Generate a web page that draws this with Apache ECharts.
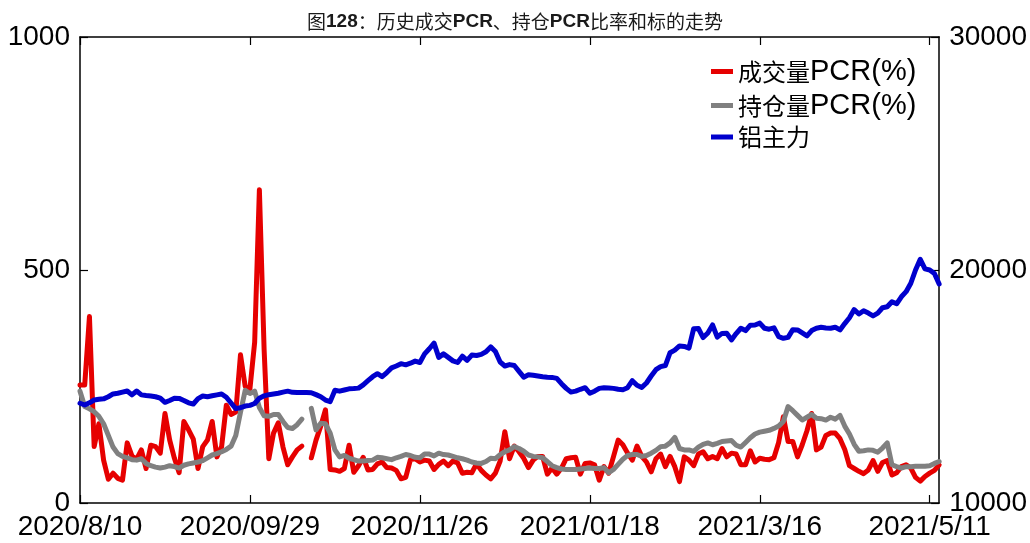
<!DOCTYPE html>
<html>
<head>
<meta charset="utf-8">
<script src="https://cdn.jsdelivr.net/npm/echarts/dist/echarts.min.js"></script>
<style>
  html, body { margin: 0; padding: 0; background: #ffffff; }
  #chart { width: 1030px; height: 543px; }
</style>
</head>
<body>
<div id="chart"></div>
<script>
// Trading calendar: weekdays from first to last session, minus exchange holidays
const firstDay = '2020-08-10';
const lastDay = '2021-05-13';
const holidays = [
  '2020-10-01', '2020-10-02', '2020-10-05', '2020-10-06', '2020-10-07', '2020-10-08',
  '2021-01-01',
  '2021-02-11', '2021-02-12', '2021-02-15', '2021-02-16', '2021-02-17',
  '2021-04-05',
  '2021-05-03', '2021-05-04', '2021-05-05'
];

// Labels shown under every 36th session
const tickStep = 36;
const tickLabels = ['2020/8/10', '2020/09/29', '2020/11/26', '2021/01/18', '2021/3/16', '2021/5/11'];

// Legend names split into Chinese part and Latin suffix
const seriesNames = ['成交量PCR(%)', '持仓量PCR(%)', '铝主力'];

// 成交量PCR (%)
const volumePCR = [
  253, 253, 400, 121, 170, 92, 51, 64, 53, 49,
  129, 101, 94, 114, 74, 124, 121, 107, 192, 135,
  96, 65, 175, 157, 137, 74, 121, 135, 175, 99,
  121, 210, 190, 195, 318, 250, 245, 345, 672, 330,
  95, 150, 172, 120, 82, 99, 114, 122, null, 97,
  135, 165, 200, 72, 71, 68, 74, 124, 66, 80,
  98, 71, 72, 84, 88, 76, 75, 70, 52, 55,
  93, 95, 88, 92, 90, 72, 83, 90, 80, 90,
  86, 64, 66, 65, 84, 70, 60, 52, 64, 90,
  153, 95, 122, 110, 96, 76, 92, 100, 100, 62,
  75, 62, 75, 95, 97, 98, 62, 85, 86, 82,
  49, 78, 64, 99, 135, 125, 107, 92, 122, 100,
  88, 67, 95, 105, 78, 100, 78, 46, 99, 92,
  80, 105, 110, 95, 100, 95, 117, 99, 107, 105,
  82, 82, 112, 88, 96, 94, 93, 97, 130, 185,
  132, 132, 99, 125, 155, 192, 114, 120, 145, 150,
  150, 138, 115, 80, 74, 68, 63, 71, 91, 68,
  87, 91, 60, 65, 78, 82, 75, 55, 47, 57,
  64, 70, 82
];

// 持仓量PCR (%)
const openInterestPCR = [
  240, 207, 202, 196, 186, 170, 145, 120, 106, 100,
  97, 93, 92, 95, 85, 80, 77, 75, 77, 80,
  78, 75, 81, 84, 86, 88, 91, 97, 103, 106,
  110, 115, 122, 145, 195, 242, 235, 240, 205, 187,
  186, 190, 190, 175, 162, 160, 168, 180, null, 203,
  157, 171, 170, 150, 114, 99, 102, 96, 93, 90,
  90, 91, 92, 98, 97, 95, 93, 97, 100, 104,
  102, 98, 97, 105, 105, 101, 107, 104, 103, 100,
  97, 95, 92, 88, 86, 85, 89, 96, 95, 104,
  110, 114, 121, 117, 111, 103, 100, 99, 97, 89,
  80, 76, 73, 72, 72, 72, 73, 74, 75, 74,
  74, 76, 65, 72, 83, 94, 102, 104, 104, 100,
  102, 107, 113, 121, 122, 129, 141, 117, 114, 114,
  111, 120, 126, 129, 125, 128, 132, 133, 134, 124,
  120, 130, 140, 148, 152, 154, 156, 160, 165, 175,
  207, 198, 188, 178, 184, 190, 182, 181, 178, 184,
  180, 188, 165, 148, 126, 111, 112, 114, 113, 109,
  118, 129, 82, 78, 75, 78, 78, 79, 79, 79,
  80, 85, 89
];

// 铝主力 close
const aluminium = [
  14280, 14206, 14300, 14420, 14450, 14470, 14560, 14680, 14710, 14760,
  14807, 14640, 14807, 14640, 14610, 14590, 14560, 14500, 14320, 14400,
  14500, 14490, 14400, 14300, 14250, 14480, 14590, 14560, 14600, 14640,
  14680, 14540, 14290, 14050, 14090, 14160, 14190, 14270, 14500, 14600,
  14650, 14680, 14710, 14760, 14800, 14750, 14740, 14740, 14740, 14734,
  14650, 14560, 14420, 14350, 14840, 14800, 14850, 14900, 14910, 14930,
  15070, 15250, 15420, 15550, 15420, 15600, 15800, 15880, 15980, 15930,
  16000, 16090, 16030, 16400, 16620, 16860, 16250, 16400, 16250, 16100,
  16030, 16300, 16120, 16350, 16330, 16380, 16490, 16700, 16500, 16050,
  15880, 15940, 15900, 15650, 15400, 15500, 15480, 15450, 15420, 15400,
  15390, 15350, 15120, 14920, 14760, 14800, 14880, 14950, 14710, 14800,
  14920, 14950, 14940, 14920, 14880, 14860, 14950, 15250, 15050, 14960,
  15150, 15450, 15720, 15850, 15900, 16450, 16560, 16740, 16720, 16650,
  17480, 17490, 17100, 17300, 17640, 17120, 17280, 17283, 17000, 17270,
  17500, 17400, 17630, 17640, 17720, 17500, 17460, 17520, 17140, 17070,
  17110, 17440, 17430, 17300, 17170, 17400, 17500, 17540, 17510, 17500,
  17540, 17430, 17700, 17950, 18300, 18110, 18250, 18150, 18030, 18150,
  18380, 18420, 18640, 18550, 18850, 19070, 19430, 20000, 20460, 20050,
  20000, 19850, 19400
];

function tradingDays(from, to, closed) {
  const out = [];
  const skip = new Set(closed);
  const d = new Date(from + 'T00:00:00Z');
  const end = new Date(to + 'T00:00:00Z');
  while (d <= end) {
    const dow = d.getUTCDay();
    const key = d.toISOString().slice(0, 10);
    if (dow !== 0 && dow !== 6 && !skip.has(key)) out.push(key);
    d.setUTCDate(d.getUTCDate() + 1);
  }
  return out;
}

const categories = tradingDays(firstDay, lastDay, holidays);

const latin = 'Liberation Sans, Arial, sans-serif';
const cjk = 'Noto Sans CJK SC, sans-serif';
const black = '#000000';

// Legend label: Chinese characters and the Latin "PCR(%)" part are styled separately
function legendLabel(name) {
  const m = name.match(/^([^A-Za-z(]+)(.*)$/);
  return m && m[2] ? '{c|' + m[1] + '}{l|' + m[2] + '}' : '{c|' + name + '}';
}

const plainNumber = function (v) { return String(v); };

const chart = echarts.init(document.getElementById('chart'), null, { renderer: 'canvas' });

const frameLine = { show: true, lineStyle: { color: black, width: 1.5 } };
const innerTick = { show: true, inside: true, length: 8, lineStyle: { color: black, width: 1.2 } };

chart.setOption({
  animation: false,
  backgroundColor: '#ffffff',
  title: {
    text: '{n|图}{b|128}{n|：历史成交}{b|PCR}{n|、持仓}{b|PCR}{n|比率和标的走势}',
    left: 'center',
    top: 7,
    textStyle: {
      fontWeight: 'normal',
      rich: {
        n: { fontSize: 19, fontFamily: cjk, fontWeight: 'normal', color: '#1a1a1a' },
        b: { fontSize: 19, fontFamily: latin, fontWeight: 'bold', color: '#1a1a1a' }
      }
    }
  },
  legend: {
    orient: 'vertical',
    left: 706,
    top: 52,
    itemGap: 5,
    itemWidth: 22,
    itemHeight: 5,
    icon: 'rect',
    data: seriesNames,
    formatter: legendLabel,
    textStyle: {
      color: black,
      rich: {
        c: { fontSize: 24, fontFamily: cjk, color: black, lineHeight: 30 },
        l: { fontSize: 29, fontFamily: latin, color: black, lineHeight: 30 }
      }
    }
  },
  grid: { left: 80, right: 90, top: 37, bottom: 40, containLabel: false },
  xAxis: [
    {
      type: 'category',
      data: categories,
      boundaryGap: false,
      position: 'bottom',
      axisLine: frameLine,
      axisTick: Object.assign({ interval: tickStep - 1 }, innerTick),
      axisLabel: {
        interval: tickStep - 1,
        margin: 10,
        fontSize: 28,
        fontFamily: latin,
        color: black,
        formatter: function (value, index) {
          const k = index / tickStep;
          return Number.isInteger(k) && tickLabels[k] ? tickLabels[k] : '';
        }
      },
      splitLine: { show: false }
    },
    {
      type: 'category',
      data: categories,
      boundaryGap: false,
      position: 'top',
      axisLine: frameLine,
      axisTick: Object.assign({ interval: tickStep - 1 }, innerTick),
      axisLabel: { show: false },
      splitLine: { show: false }
    }
  ],
  yAxis: [
    {
      type: 'value',
      min: 0,
      max: 1000,
      interval: 500,
      position: 'left',
      axisLine: frameLine,
      axisTick: innerTick,
      axisLabel: { margin: 10, fontSize: 28, fontFamily: latin, color: black, formatter: plainNumber },
      splitLine: { show: false }
    },
    {
      type: 'value',
      min: 10000,
      max: 30000,
      interval: 10000,
      position: 'right',
      axisLine: frameLine,
      axisTick: innerTick,
      axisLabel: { margin: 10, fontSize: 28, fontFamily: latin, color: black, formatter: plainNumber },
      splitLine: { show: false }
    }
  ],
  series: [
    {
      name: seriesNames[0],
      type: 'line',
      xAxisIndex: 0,
      yAxisIndex: 0,
      data: volumePCR,
      showSymbol: false,
      connectNulls: false,
      color: '#e60000',
      lineStyle: { width: 5, color: '#e60000', join: 'round', cap: 'round' },
      z: 2
    },
    {
      name: seriesNames[1],
      type: 'line',
      xAxisIndex: 0,
      yAxisIndex: 0,
      data: openInterestPCR,
      showSymbol: false,
      connectNulls: false,
      color: '#808080',
      lineStyle: { width: 5, color: '#808080', join: 'round', cap: 'round' },
      z: 3
    },
    {
      name: seriesNames[2],
      type: 'line',
      xAxisIndex: 0,
      yAxisIndex: 1,
      data: aluminium,
      showSymbol: false,
      color: '#0000cd',
      lineStyle: { width: 5, color: '#0000cd', join: 'round', cap: 'round' },
      z: 4
    }
  ]
});
</script>
</body>
</html>
